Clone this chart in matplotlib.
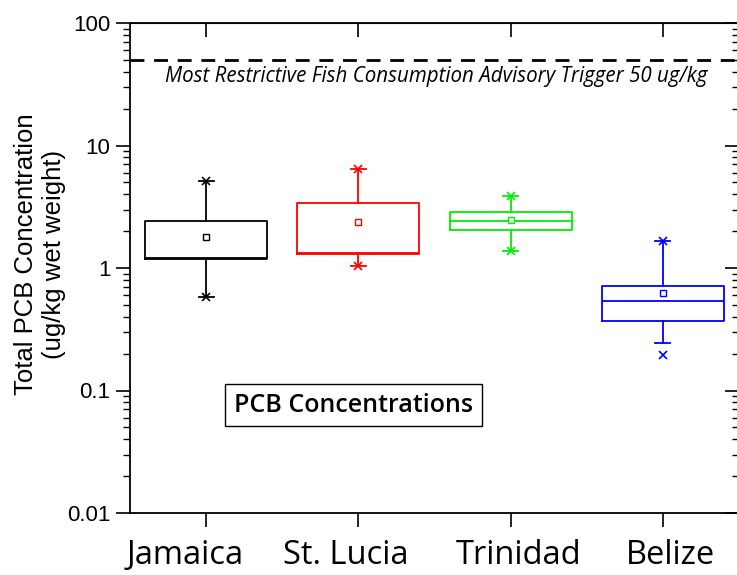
import numpy as np
import matplotlib.pyplot as plt
from matplotlib.transforms import ScaledTranslation

# box statistics (ug/kg wet weight)
sites = ["Jamaica", "St. Lucia", "Trinidad", "Belize"]
colors = ["black", "red", "#00ee00", "blue"]
q1 = [1.18, 1.30, 2.04, 0.371]
med = [1.21, 1.32, 2.42, 0.541]
q3 = [2.42, 3.37, 2.87, 0.713]
whis_lo = [0.583, 1.04, 1.38, 0.243]
whis_hi = [5.13, 6.43, 3.87, 1.67]
means = [1.78, 2.36, 2.45, 0.63]
mins = [0.583, 1.04, 1.38, 0.195]
maxs = [5.13, 6.43, 3.87, 1.67]
advisory = 50

fig = plt.figure(figsize=(7.37, 5.75), dpi=100)
ax = fig.add_axes([130 / 737, 1 - 513 / 575, 609 / 737, 490 / 575])

for i in range(len(sites)):
    st = dict(med=med[i], q1=q1[i], q3=q3[i], whislo=whis_lo[i], whishi=whis_hi[i],
              mean=means[i], fliers=[mins[i], maxs[i]])
    c = colors[i]
    ax.bxp([st], positions=[i + 1], widths=0.8, capwidths=0.1, showmeans=True,
           boxprops=dict(color=c, lw=1.3), whiskerprops=dict(color=c, lw=1.3),
           capprops=dict(color=c, lw=1.3), medianprops=dict(color=c, lw=1.3),
           meanprops=dict(marker='s', markerfacecolor='white', markeredgecolor=c,
                          markersize=5, markeredgewidth=1),
           flierprops=dict(marker='x', markeredgecolor=c, markersize=6, markeredgewidth=1.2))

ax.axhline(advisory, color='black', lw=2, ls=(0, (5, 3.5)))
ax.text(0.503, 0.89, "Most Restrictive Fish Consumption Advisory Trigger 50 ug/kg",
        transform=ax.transAxes, ha='center', va='center', fontsize=14.8,
        style='italic', family='Open Sans')
ax.text(0.367, 0.22, "PCB Concentrations", transform=ax.transAxes, ha='center',
        va='center', fontsize=18, family='Open Sans', fontweight='semibold',
        bbox=dict(boxstyle='square,pad=0.35', fc='white', ec='black', lw=1))

ax.set_yscale('log')
ax.set_ylim(0.01, 100)
ax.set_xlim(0.5, 4.5)
ax.set_yticks([0.01, 0.1, 1, 10, 100])
ax.set_yticklabels(["0.01", "0.1", "1", "10", "100"], family='Liberation Sans', fontsize=16)
ax.set_xticks(range(1, len(sites) + 1))
ax.set_xticklabels([])
# category names; the reference labels sit a little off their ticks
for i, (name, dx) in enumerate(zip(sites, [-21, -13, 8, 8])):
    off = ScaledTranslation(dx / 100, -0.265, fig.dpi_scale_trans)
    ax.text(i + 1, 0, name, transform=ax.get_xaxis_transform() + off,
            ha='center', va='top', family='Open Sans', fontsize=23.5)

fig.text(40 / 737, 1 - 254 / 575, "Total PCB Concentration\n(ug/kg wet weight)",
         rotation=90, ha='center', va='center', multialignment='center',
         family='Liberation Sans', fontsize=18.5, linespacing=1.22)

ax.tick_params(axis='y', which='major', direction='out', length=10, width=1.2, pad=4)
ax.tick_params(axis='y', which='minor', direction='out', length=5, width=1)
ax.tick_params(axis='x', direction='out', length=10, width=1.2)

right = ax.secondary_yaxis('right')
right.tick_params(which='major', direction='in', length=10, width=1.2, labelright=False)
right.tick_params(which='minor', direction='in', length=5, width=1, labelright=False)
top = ax.secondary_xaxis('top')
top.set_xticks(range(1, len(sites) + 1))
top.tick_params(direction='in', length=10, width=1.2, labeltop=False)
for s in ax.spines.values():
    s.set_linewidth(1.3)

fig.savefig("out.png", dpi=100)
